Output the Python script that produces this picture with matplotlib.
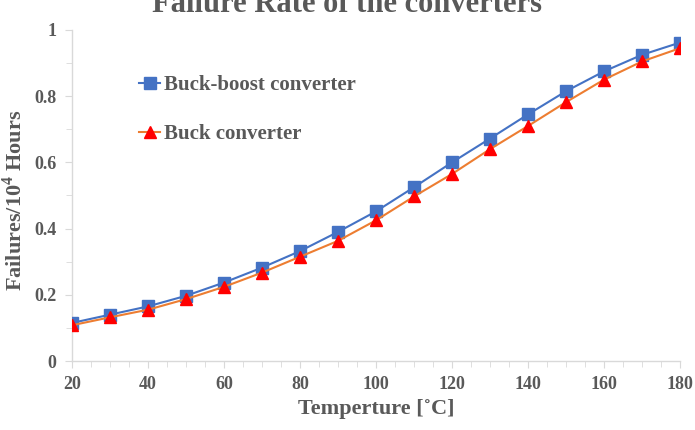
import matplotlib
matplotlib.use("Agg")
import matplotlib.pyplot as plt
from matplotlib.ticker import MultipleLocator

temperature = [20, 30, 40, 50, 60, 70, 80, 90, 100, 110, 120, 130, 140, 150, 160, 170, 180]
buck_boost = [0.115, 0.140, 0.165, 0.197, 0.237, 0.282, 0.332, 0.390, 0.452, 0.525,
              0.600, 0.672, 0.745, 0.815, 0.875, 0.925, 0.962]
buck = [0.108, 0.132, 0.155, 0.187, 0.224, 0.267, 0.315, 0.363, 0.425, 0.497,
        0.565, 0.640, 0.710, 0.782, 0.850, 0.905, 0.945]
x_ticks = [20, 40, 60, 80, 100, 120, 140, 160, 180]
y_ticks = [0, 0.2, 0.4, 0.6, 0.8, 1]
y_tick_labels = ["0", "0.2", "0.4", "0.6", "0.8", "1"]

plt.rcParams['font.family'] = ['Liberation Serif', 'DejaVu Serif']
plt.rcParams['mathtext.fontset'] = 'custom'
plt.rcParams['mathtext.rm'] = 'Liberation Serif:bold'
plt.rcParams['mathtext.bf'] = 'Liberation Serif:bold'

gray = '#595959'
axis_gray = '#D9D9D9'

fig = plt.figure(figsize=(6.95, 4.30), dpi=100)
ax = fig.add_axes([72/695, 1-361/430, (680-72)/695, (361-30)/430])

ax.plot(temperature, buck_boost, color='#4472C4', lw=1.5, marker='s', ms=8.5,
        mfc='#4472C4', mec='#4472C4', label='Buck-boost converter', zorder=3)
ax.plot(temperature, buck, color='#ED7D31', lw=1.5, marker='^', ms=9,
        mfc='#FF0000', mec='#FF0000', label='Buck converter', zorder=4)

ax.set_xlim(20, 180)
ax.set_ylim(0, 1)
ax.set_xticks(x_ticks)
ax.set_yticks(y_ticks)
ax.set_yticklabels(y_tick_labels)
ax.xaxis.set_minor_locator(MultipleLocator(5))
ax.yaxis.set_minor_locator(MultipleLocator(0.1))

for s in ['top', 'right']:
    ax.spines[s].set_visible(False)
for s in ['left', 'bottom']:
    ax.spines[s].set_color(axis_gray)
    ax.spines[s].set_linewidth(1.0)

ax.tick_params(axis='both', which='both', color=axis_gray, direction='out')
ax.tick_params(axis='both', which='major', length=5, labelsize=13, labelcolor=gray, pad=6)
ax.tick_params(axis='both', which='minor', length=4)
for lab in ax.get_xticklabels() + ax.get_yticklabels():
    lab.set_fontweight('bold')

ax.set_xlabel('Temperture [˚C]', fontsize=16, fontweight='bold', color=gray, labelpad=4)
ax.set_ylabel('Failures/10$^{4}$ Hours', fontsize=16, fontweight='bold', color=gray)
ax.yaxis.set_label_coords((27 - 72) / (680 - 72), (361 - 200) / (361 - 30))

fig.text(0.5, 1 - 12/430, 'Failure Rate of the converters', ha='center', va='baseline',
         fontsize=22, fontweight='bold', color=gray)

leg = ax.legend(loc='upper left', bbox_to_anchor=(0.08, 0.92), frameon=False,
                prop={'family': 'Liberation Serif', 'weight': 'bold', 'size': 15},
                labelspacing=1.4, handlelength=1.0, handletextpad=0.2, markerscale=1.0)
for t in leg.get_texts():
    t.set_color(gray)

fig.savefig('out.png', dpi=100)
